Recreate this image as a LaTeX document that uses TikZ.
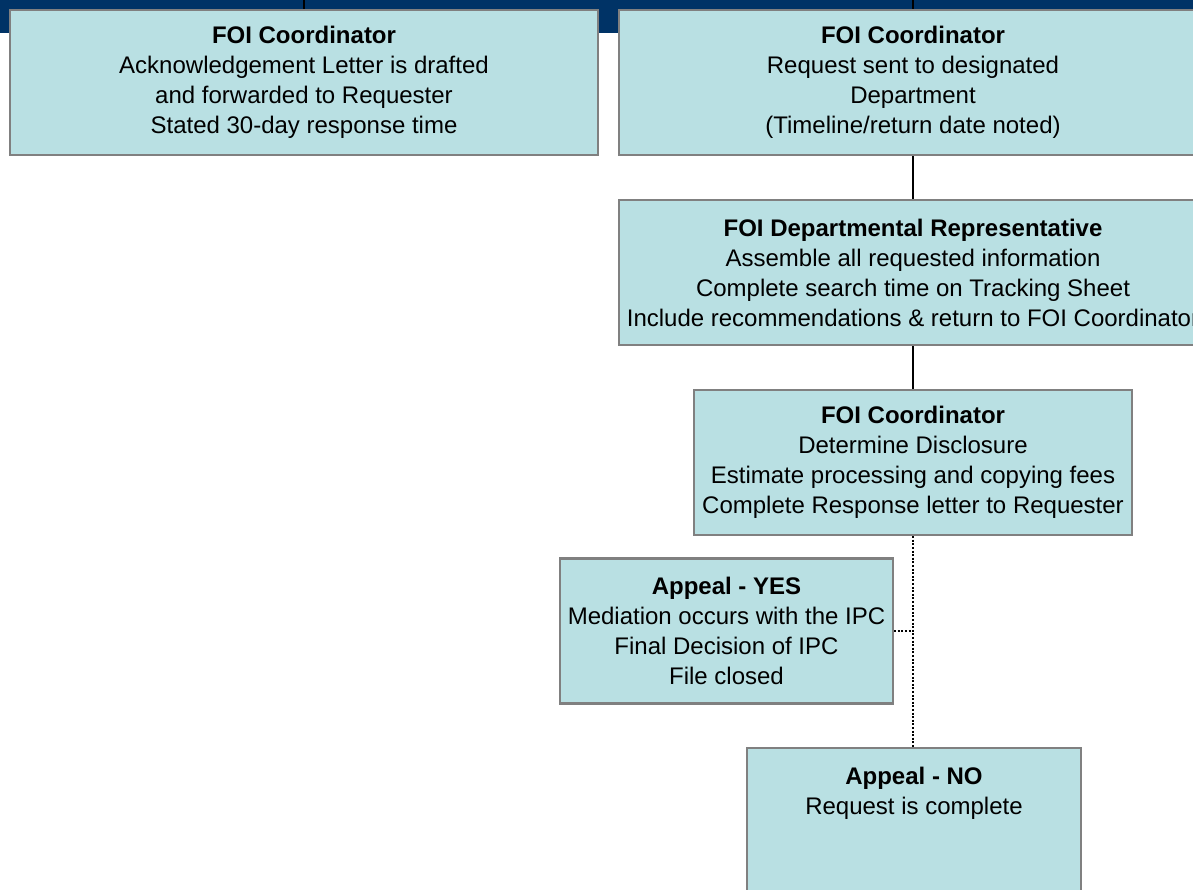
\documentclass[tikz,border=0pt]{standalone}
\usepackage{fontspec}
\setmainfont{Liberation Sans}
\definecolor{barblue}{RGB}{0,51,102}
\definecolor{boxfill}{RGB}{185,224,227}
\definecolor{boxline}{RGB}{128,128,128}
\tikzset{
  stepbox/.style={draw=boxline, line width=1.1pt, fill=boxfill, rectangle,
    minimum height=72.5pt, inner sep=0pt, align=center,
    font=\fontsize{12pt}{15pt}\selectfont},
  link/.style={black, line width=0.6pt},
  dotlink/.style={black, line width=0.8pt, dash pattern=on 1pt off 0.8pt}
}
\begin{document}
\begin{tikzpicture}[x=0.5pt,y=-0.5pt]
\useasboundingbox (0,0) rectangle (1193,889);
\fill [barblue] (0,0) rectangle (1193,33);
\coordinate (top1) at (304,0);
\coordinate (top2) at (913,0);
\node [stepbox, minimum width=294pt] (ack) at (304,82.5)
  {\textbf{FOI Coordinator}\\Acknowledgement Letter is drafted\\and forwarded to Requester\\Stated 30-day response time};
\node [stepbox, minimum width=294pt] (sent) at (913,82.5)
  {\textbf{FOI Coordinator}\\Request sent to designated\\Department\\(Timeline/return date noted)};
\node [stepbox, minimum width=294pt] (rep) at (913,272.5)
  {\textbf{FOI Departmental Representative}\\Assemble all requested information\\Complete search time on Tracking Sheet\\Include recommendations \& return to FOI Coordinator};
\node [stepbox, minimum width=219pt] (disc) at (913,462.5)
  {\textbf{FOI Coordinator}\\Determine Disclosure\\Estimate processing and copying fees\\Complete Response letter to Requester};
\node [stepbox, minimum width=166.5pt] (yes) at (726.5,631)
  {\textbf{Appeal - YES}\\Mediation occurs with the IPC\\Final Decision of IPC\\File closed};
\node [stepbox, minimum width=167pt] (no) at (914,820.5)
  {\textbf{Appeal - NO}\\Request is complete\\\mbox{}\\\mbox{}};
\draw [link] (top1) -- (ack.north);
\draw [link] (top2) -- (sent.north);
\draw [link] (sent) -- (rep);
\draw [link] (rep) -- (disc);
\draw [dotlink] (disc.south) -- (disc.south |- no.north);
\draw [dotlink] (yes.east) -- (yes.east -| disc.south);
\end{tikzpicture}
\end{document}
